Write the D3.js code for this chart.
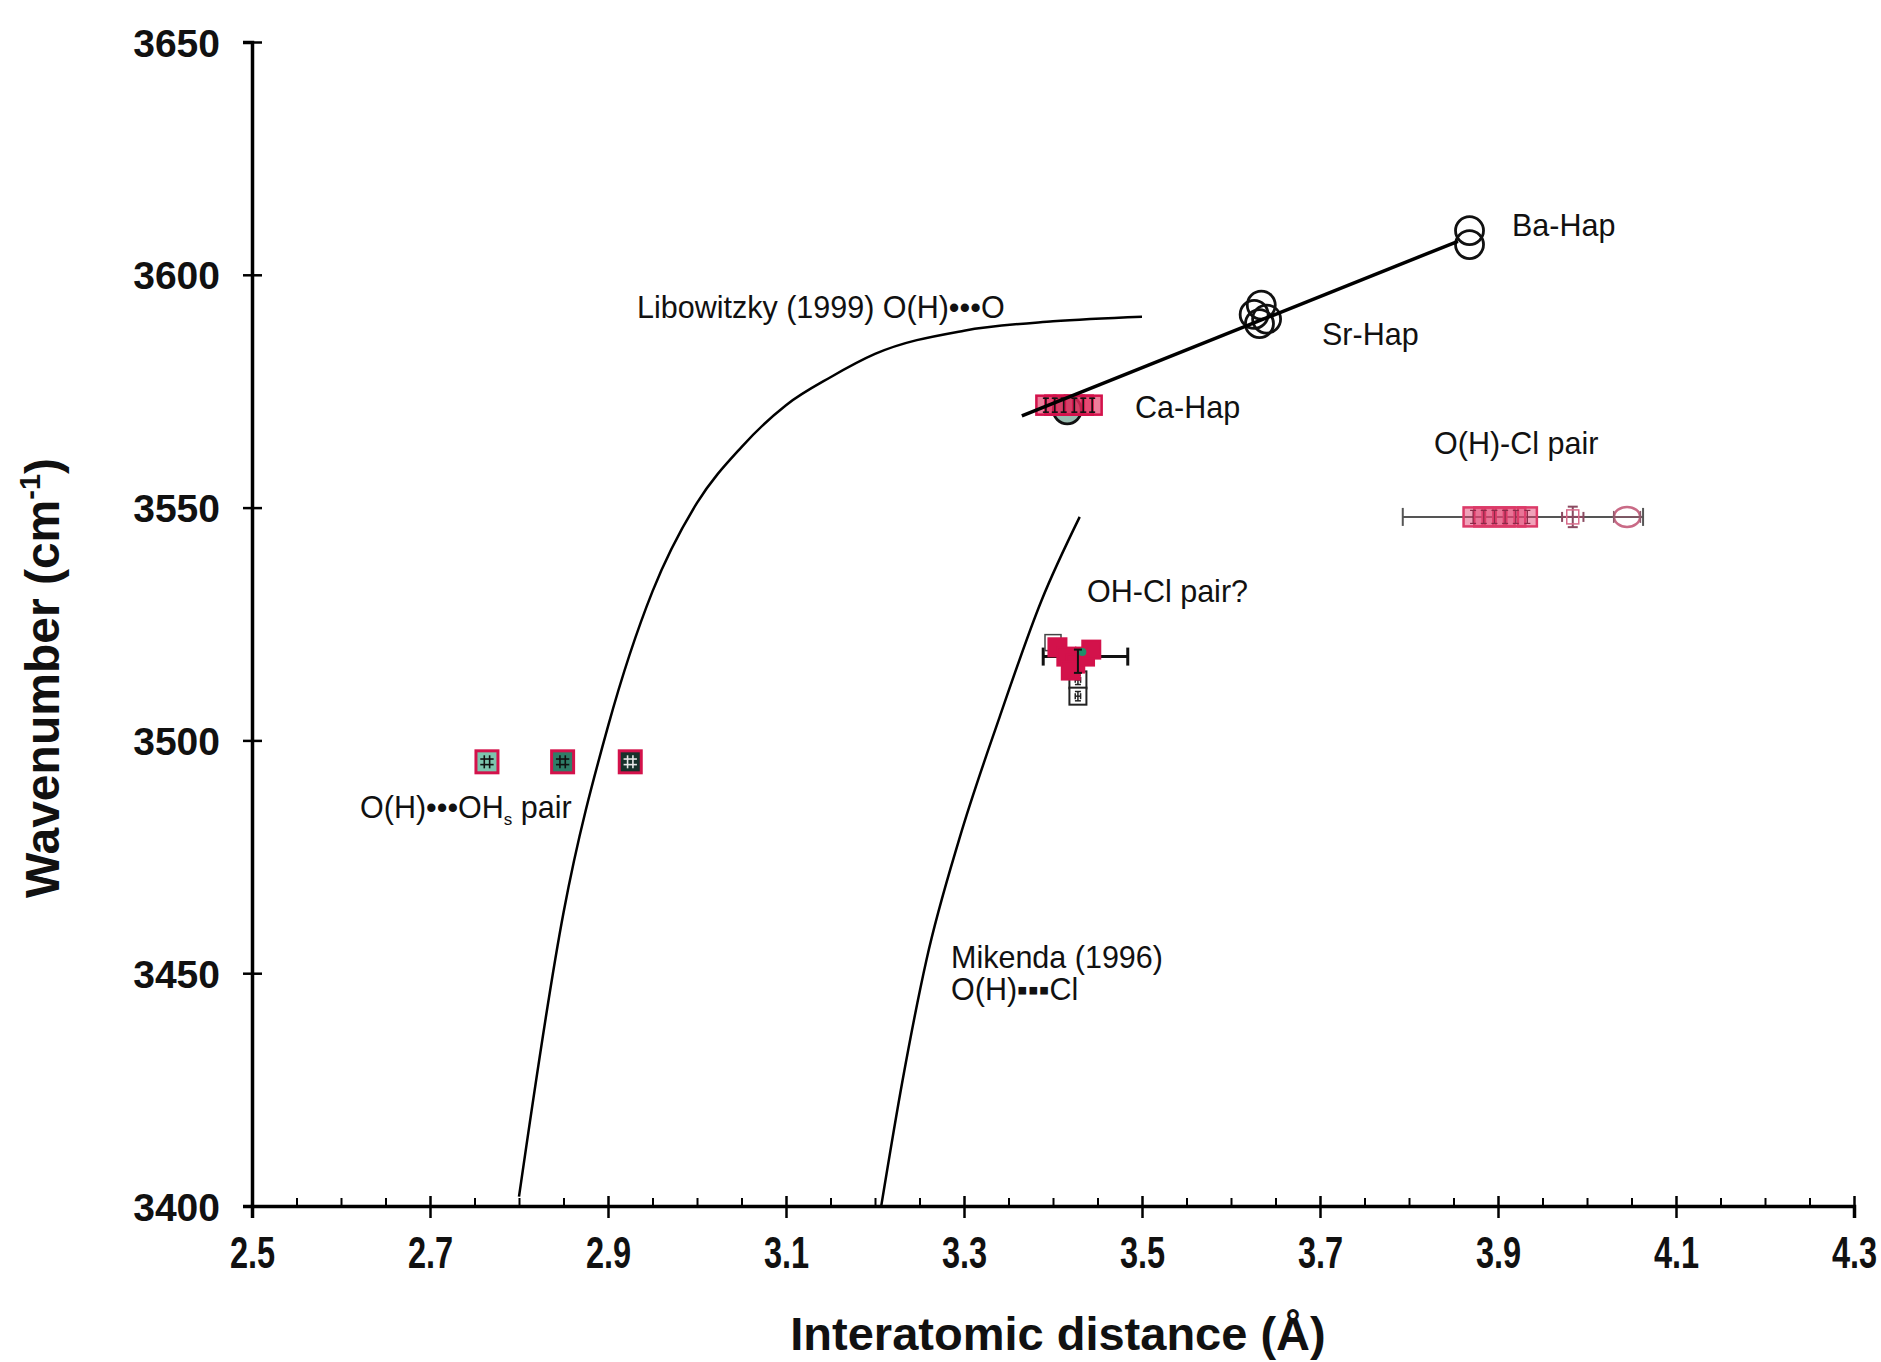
<!DOCTYPE html>
<html><head><meta charset="utf-8">
<script src="https://cdn.jsdelivr.net/npm/d3@7"></script>
<style>
body{margin:0;background:#fff}
svg{display:block}
text{font-family:"Liberation Sans",Arial,Helvetica,sans-serif;fill:#111}
</style>
</head><body>
<svg id="chart" width="1881" height="1362"></svg>
<script>
// ---------------- data ----------------
const xTicks = [2.5, 2.7, 2.9, 3.1, 3.3, 3.5, 3.7, 3.9, 4.1, 4.3];
const xMinorTicks = [2.55,2.6,2.65,2.75,2.8,2.85,2.95,3.0,3.05,3.15,3.2,3.25,3.35,3.4,3.45,3.55,3.6,3.65,3.75,3.8,3.85,3.95,4.0,4.05,4.15,4.2,4.25];
const yTicks = [3400, 3450, 3500, 3550, 3600, 3650];

// Libowitzky (1999) O(H)...O correlation curve
const libowitzkyCurve = [[2.80,3402],[2.85,3463],[2.90,3503],[2.95,3532],[3.00,3551],[3.05,3563],[3.10,3572],[3.15,3578],[3.20,3583],[3.30,3588],[3.40,3590],[3.50,3591]];
// Mikenda (1996) O(H)...Cl correlation curve
const mikendaCurve = [[3.207,3400],[3.231,3427],[3.258,3453],[3.295,3479],[3.340,3505],[3.387,3530],[3.430,3548]];
// Linear trend through Ca / Sr / Ba hydroxyapatites
const hapFitLine = [[3.365,3569.7],[3.855,3607.2]];
// open circles: apatite OH band positions
const hapCircles = [
  {x:3.416,y:3571},
  {x:3.626,y:3591.5},{x:3.634,y:3593.5},{x:3.640,y:3590.5},{x:3.632,y:3589.5},
  {x:3.868,y:3609.5},{x:3.868,y:3606.5}
];
// Ca-Hap squares
const caHapX = [3.392,3.402,3.412,3.424,3.434,3.444];
const caHapY = 3572;
// O(H)-Cl pair
const ohClPairX = [3.872,3.884,3.896,3.908,3.92,3.933];
const ohClPairY = 3548;
const ohClPairRange = [3.793,4.063];
const ohClPairExtra = [{x:3.984,y:3548,kind:"bar"},{x:4.045,y:3548,kind:"oval"}];
// OH-Cl pair?
const ohClQSquares = [{x:3.405,y:3520},{x:3.415,y:3518},{x:3.425,y:3516.5},{x:3.436,y:3518},{x:3.443,y:3519.5},{x:3.42,y:3515}];
const ohClQOpen = [{x:3.40,y:3521}];
const ohClQBlack = [{x:3.428,y:3513},{x:3.428,y:3509.5}];
const ohClQRange = {y:3518, lo:3.389, hi:3.484};
// O(H)...OHs pair
const ohOhX = [2.764, 2.849, 2.925];
const ohOhY = 3495.4;
const ohOhFill = ["#7cc4ae","#2f7d68","#16322b"];

// ---------------- layout ----------------
const svg = d3.select("#chart");
svg.append("rect").attr("width",1881).attr("height",1362).attr("fill","#fff");
const x = d3.scaleLinear().domain([2.5,4.3]).range([252,1854]);
const y = d3.scaleLinear().domain([3400,3650]).range([1206,42]);
const RED = "#d3124b";

// axes
const gx = svg.append("g").attr("transform",`translate(0,${y(3400)})`)
  .call(d3.axisBottom(x).tickValues(xTicks).tickFormat(d3.format(".1f")).tickSize(12).tickPadding(0));
gx.select(".domain").attr("stroke","#000").attr("stroke-width",3.5);
gx.selectAll(".tick line").attr("y1",-10).attr("y2",12).attr("stroke","#000").attr("stroke-width",2.5);
gx.selectAll(".tick text").attr("y",62).attr("dy",0)
  .attr("font-size",44).attr("font-weight","bold").attr("transform","scale(0.74,1)")
  .style("font-family","'Liberation Sans',Arial,sans-serif").attr("fill","#111");
const gxm = svg.append("g").attr("transform",`translate(0,${y(3400)})`)
  .call(d3.axisBottom(x).tickValues(xMinorTicks).tickSize(-8).tickFormat(""));
gxm.select(".domain").remove();
gxm.selectAll(".tick line").attr("stroke","#000").attr("stroke-width",2);

const gy = svg.append("g").attr("transform",`translate(${x(2.5)},0)`)
  .call(d3.axisLeft(y).tickValues(yTicks).tickFormat(d3.format("d")).tickSize(9).tickPadding(0));
gy.select(".domain").attr("stroke","#000").attr("stroke-width",3.5);
gy.selectAll(".tick line").attr("x1",-9).attr("x2",10).attr("stroke","#000").attr("stroke-width",2.5);
gy.selectAll(".tick text").attr("x",-32).attr("dy","0.36em")
  .attr("font-size",39).attr("font-weight","bold")
  .style("font-family","'Liberation Sans',Arial,sans-serif").attr("fill","#1a1a1a");

// axis titles
svg.append("text").attr("x",1058).attr("y",1350).attr("text-anchor","middle")
  .attr("font-size",47).attr("font-weight","bold").text("Interatomic distance (Å)");
const yt = svg.append("text").attr("transform","translate(59,678) rotate(-90)")
  .attr("text-anchor","middle").attr("font-size",48).attr("font-weight","bold");
yt.append("tspan").text("Wavenumber (cm");
yt.append("tspan").attr("font-size",29).attr("dy",-19).text("-1");
yt.append("tspan").attr("dy",19).text(")");

// curves
const line = d3.line().x(d=>x(d[0])).y(d=>y(d[1])).curve(d3.curveMonotoneX);
svg.append("path").datum(libowitzkyCurve).attr("d",line).attr("fill","none").attr("stroke","#000").attr("stroke-width",2.5);
svg.append("path").datum(mikendaCurve).attr("d",line).attr("fill","none").attr("stroke","#000").attr("stroke-width",2.5);

// helpers
function errBar(g, cx, cy, xe, ye, cap, col, w){
  if (xe){
    g.append("line").attr("x1",x(cx-xe)).attr("x2",x(cx+xe)).attr("y1",y(cy)).attr("y2",y(cy)).attr("stroke",col).attr("stroke-width",w);
    [cx-xe,cx+xe].forEach(v=>g.append("line").attr("x1",x(v)).attr("x2",x(v)).attr("y1",y(cy)-cap).attr("y2",y(cy)+cap).attr("stroke",col).attr("stroke-width",w));
  }
  if (ye){
    g.append("line").attr("x1",x(cx)).attr("x2",x(cx)).attr("y1",y(cy-ye)).attr("y2",y(cy+ye)).attr("stroke",col).attr("stroke-width",w);
    [cy-ye,cy+ye].forEach(v=>g.append("line").attr("y1",y(v)).attr("y2",y(v)).attr("x1",x(cx)-cap).attr("x2",x(cx)+cap).attr("stroke",col).attr("stroke-width",w));
  }
}
function square(g, cx, cy, s, stroke, fill, sw){
  g.append("rect").attr("x",x(cx)-s/2).attr("y",y(cy)-s/2).attr("width",s).attr("height",s)
    .attr("fill",fill).attr("stroke",stroke).attr("stroke-width",sw);
}

const marks = svg.append("g");

// O(H)...OHs squares
ohOhX.forEach((v,i)=>{
  square(marks, v, ohOhY, 22, RED, ohOhFill[i], 3);
  const col = i==2 ? "#e8e8e8" : "#111";
  errBar(marks, v-0.003, ohOhY, 0, 1.4, 0, col, 1.6);
  errBar(marks, v+0.003, ohOhY, 0, 1.4, 0, col, 1.6);
  errBar(marks, v, ohOhY+0.6, 0.0075, 0, 0, col, 1.6);
  errBar(marks, v, ohOhY-0.6, 0.0075, 0, 0, col, 1.6);
});

// OH-Cl pair? cluster
errBar(marks, (ohClQRange.lo+ohClQRange.hi)/2, ohClQRange.y, (ohClQRange.hi-ohClQRange.lo)/2, 0, 9, "#111", 3);
ohClQBlack.forEach(d=>{ square(marks,d.x,d.y,17,"#222","#fff",2); errBar(marks,d.x,d.y,0.003,1,3,"#222",1.5); });
ohClQOpen.forEach(d=>square(marks,d.x,d.y,16,"#444","none",1.5));
ohClQSquares.forEach(d=>square(marks,d.x,d.y,18,RED,RED,2));
marks.append("circle").attr("cx",x(3.433)).attr("cy",y(3519)).attr("r",4).attr("fill","#1f8f6a");
errBar(marks, 3.428, 3517, 0, 2.5, 4, "#111", 2);

// O(H)-Cl pair
errBar(marks, (ohClPairRange[0]+ohClPairRange[1])/2, ohClPairY, (ohClPairRange[1]-ohClPairRange[0])/2, 0, 9, "#555", 2);
ohClPairX.forEach(v=>{ square(marks, v, ohClPairY, 19, "#dc3a68", "rgba(226,70,115,0.5)", 2.5); });
ohClPairX.forEach(v=>errBar(marks, v, ohClPairY, 0, 1.4, 3, "#8a2a48", 1.2));
ohClPairExtra.forEach(d=>{
  if (d.kind==="bar"){
    errBar(marks, d.x, d.y, 0.012, 2.2, 5, "#8a4a60", 2);
    marks.append("rect").attr("x",x(d.x)-6).attr("y",y(d.y)-7).attr("width",12).attr("height",14).attr("fill","none").attr("stroke","#d86a8a").attr("stroke-width",1.5);
  } else {
    marks.append("ellipse").attr("cx",x(d.x)).attr("cy",y(d.y)).attr("rx",13).attr("ry",10).attr("fill","none").attr("stroke","#c96a86").attr("stroke-width",2.5);
    errBar(marks, d.x, d.y, 0.015, 0, 6, "#8a5a6a", 1.5);
  }
});

// Ca/Sr/Ba trend line
svg.append("path").datum(hapFitLine).attr("d",d3.line().x(d=>x(d[0])).y(d=>y(d[1])))
  .attr("stroke","#000").attr("stroke-width",3.5).attr("fill","none");

// circles
hapCircles.forEach(d=>{
  marks.append("circle").attr("cx",x(d.x)).attr("cy",y(d.y)).attr("r",14)
    .attr("fill",d.x<3.5?"#1a6b50":"none").attr("fill-opacity",d.x<3.5?0.45:0)
    .attr("stroke","#111").attr("stroke-width",2.8);
});

// Ca-Hap squares
caHapX.forEach(v=>square(marks, v, caHapY, 19, RED, "rgba(225,40,90,0.6)", 2.5));
caHapX.forEach(v=>errBar(marks, v, caHapY, 0, 1.5, 3, "#111", 1.6));

// annotations
const ann = [
  {t:"Libowitzky (1999) O(H)•••O", x:637, y:318},
  {t:"Ba-Hap", x:1512, y:236},
  {t:"Sr-Hap", x:1322, y:345},
  {t:"Ca-Hap", x:1135, y:418},
  {t:"O(H)-Cl pair", x:1434, y:454},
  {t:"OH-Cl pair?", x:1087, y:602},
  {t:"Mikenda (1996)", x:951, y:968},
  {t:"O(H)▪▪▪Cl", x:951, y:1000}
];
ann.forEach(a=>svg.append("text").attr("x",a.x).attr("y",a.y).attr("font-size",30.5).text(a.t));
const oh = svg.append("text").attr("x",360).attr("y",818).attr("font-size",30.5);
oh.append("tspan").text("O(H)•••OH");
oh.append("tspan").attr("font-size",17).attr("dy",7).text("s");
oh.append("tspan").attr("dy",-7).text(" pair");
</script>
</body></html>
